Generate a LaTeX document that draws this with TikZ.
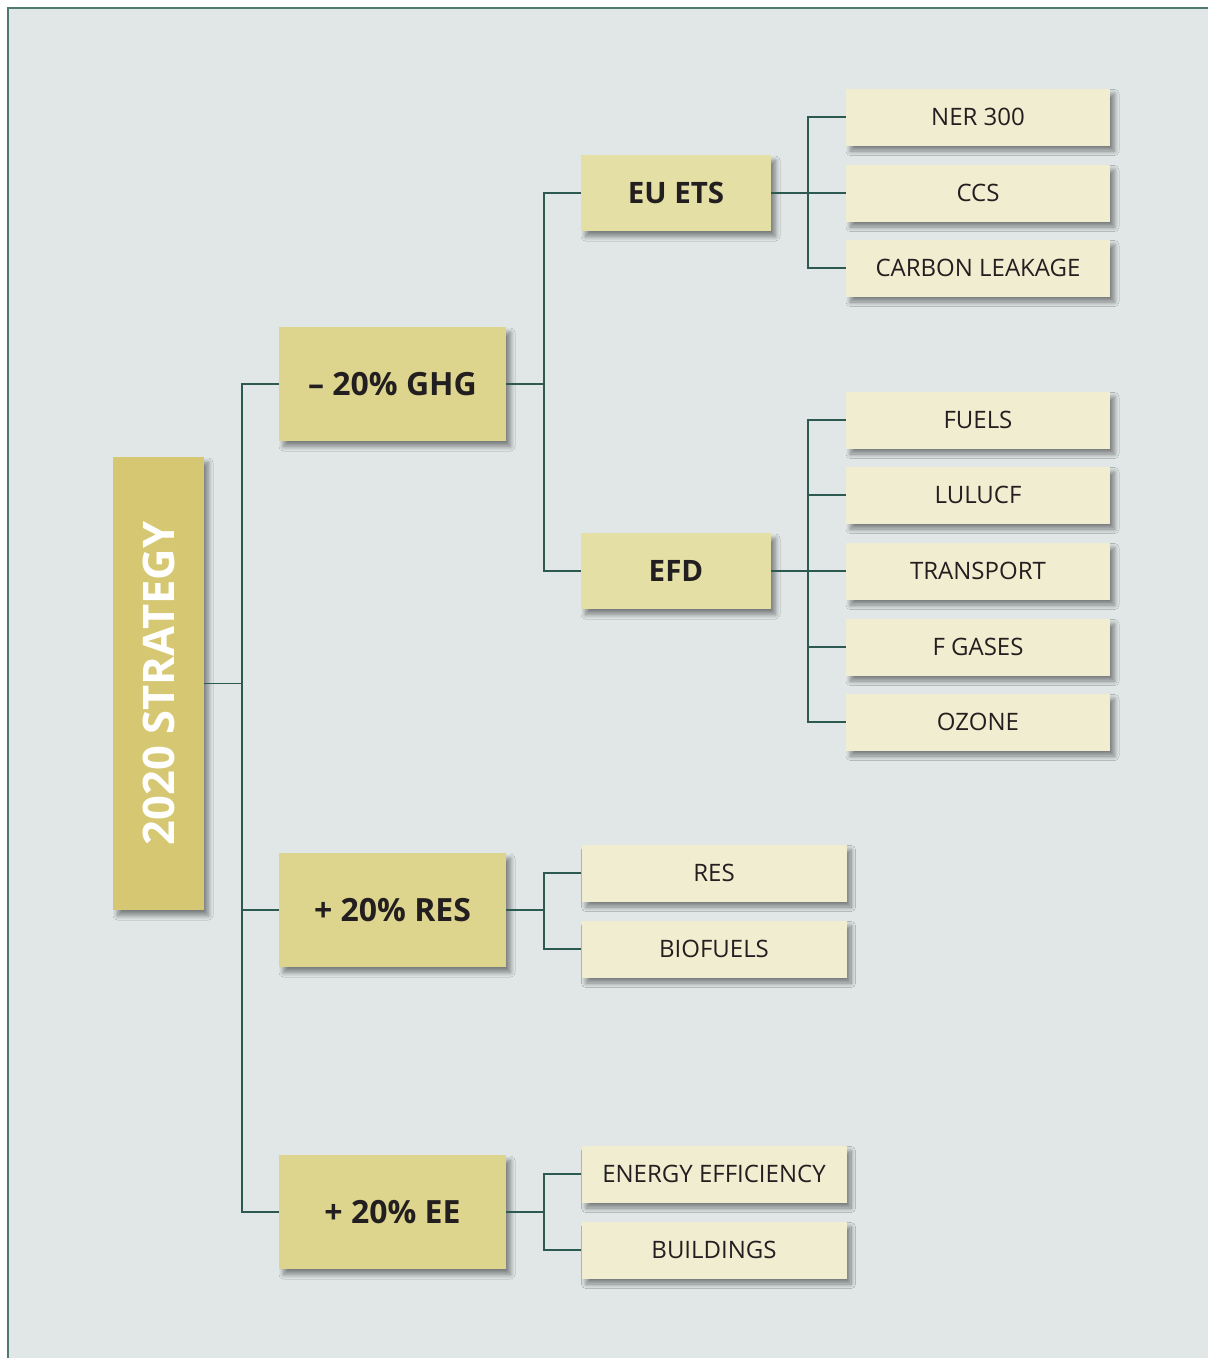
\documentclass[tikz,border=0pt]{standalone}
\usepackage{fontspec}
\setmainfont{Open Sans}
\usetikzlibrary{shadows.blur}
\definecolor{bgc}{HTML}{E1E7E7}
\definecolor{framec}{HTML}{4F7A70}
\definecolor{connc}{HTML}{2C5A50}
\definecolor{c1}{HTML}{D6C873}
\definecolor{c2}{HTML}{DDD58D}
\definecolor{c3}{HTML}{E4DFA4}
\definecolor{c4}{HTML}{F0EDD0}
\definecolor{shc}{HTML}{6F8388}
\definecolor{txt}{HTML}{231F20}
\begin{document}
\begin{tikzpicture}[x=1pt,y=-1pt,
  boxbase/.style={inner sep=0pt, draw=none, text=txt,
    blur shadow={shadow xshift=4.5pt, shadow yshift=-5.5pt, shadow blur radius=4.5pt,
      shadow blur steps=16, shadow opacity=45, fill=shc}},
  rootbox/.style={boxbase, fill=c1, minimum width=91pt, minimum height=453pt},
  lvltwo/.style={boxbase, fill=c2, minimum width=227pt, minimum height=114pt,
    font=\fontsize{32}{37}\selectfont\bfseries},
  lvlthree/.style={boxbase, fill=c3, minimum width=190pt, minimum height=76pt,
    font=\fontsize{29.5}{34}\selectfont\bfseries},
  leafbox/.style={boxbase, fill=c4, minimum width=264pt, minimum height=57pt,
    font=\fontsize{24}{28}\selectfont},
  leafboxb/.style={leafbox, minimum width=265pt},
  conn/.style={draw=connc, line width=1.9pt}]
\useasboundingbox (0,0) rectangle (1208,1358);
\fill[white] (0,0) rectangle (1208,1358);
\fill[bgc] (8,8) rectangle (1208,1358);
\draw[framec, line width=1.5pt] (8,1358) -- (8,8) -- (1208,8);

% coordinates for vertical bus lines
\coordinate (ta) at (242,0);
\coordinate (tb) at (544,0);
\coordinate (tc) at (808,0);

% root
\node[rootbox] (strat) at (158.5,683.5) {};
\node[rotate=90, text=white, font=\fontsize{43.5}{50}\selectfont\bfseries] (stratlabel) at (strat.center) {2020 STRATEGY};

% level 2
\node[lvltwo] (ghg) at (392.5,384) {– 20\% GHG};
\node[lvltwo] (res) at (392.5,910) {+ 20\% RES};
\node[lvltwo] (ee) at (392.5,1212) {+ 20\% EE};

% level 3
\node[lvlthree] (ets) at (676,193) {EU ETS};
\node[lvlthree] (efd) at (676,571) {EFD};

% leaves of EU ETS
\node[leafbox] (ner) at (978,117) {NER 300};
\node[leafbox] (ccs) at (978,193) {CCS};
\node[leafbox] (leak) at (978,268) {CARBON LEAKAGE};

% leaves of EFD
\node[leafbox] (fuels) at (978,420) {FUELS};
\node[leafbox] (lulucf) at (978,495) {LULUCF};
\node[leafbox] (transp) at (978,571) {TRANSPORT};
\node[leafbox] (fgas) at (978,647) {F GASES};
\node[leafbox] (ozone) at (978,722) {OZONE};

% leaves of RES
\node[leafboxb] (resi) at (714,873) {RES};
\node[leafboxb] (bio) at (714,949) {BIOFUELS};

% leaves of EE
\node[leafboxb] (eff) at (714,1174) {ENERGY EFFICIENCY};
\node[leafboxb] (bld) at (714,1250) {BUILDINGS};

% connectors: root to level 2
\draw[conn] (strat.east) -- (strat.east -| ta);
\draw[conn] (ghg.west) -- (ghg.west -| ta) -- (ee.west -| ta) -- (ee.west);
\draw[conn] (res.west) -- (res.west -| ta);

% GHG to level 3
\draw[conn] (ghg.east) -- (ghg.east -| tb);
\draw[conn] (ets.west) -- (ets.west -| tb) -- (efd.west -| tb) -- (efd.west);

% EU ETS to leaves
\draw[conn] (ets.east) -- (ccs.west);
\draw[conn] (ner.west) -- (ner.west -| tc) -- (leak.west -| tc) -- (leak.west);

% EFD to leaves
\draw[conn] (efd.east) -- (transp.west);
\draw[conn] (fuels.west) -- (fuels.west -| tc) -- (ozone.west -| tc) -- (ozone.west);
\draw[conn] (lulucf.west) -- (lulucf.west -| tc);
\draw[conn] (fgas.west) -- (fgas.west -| tc);

% RES to leaves
\draw[conn] (res.east) -- (res.east -| tb);
\draw[conn] (resi.west) -- (resi.west -| tb) -- (bio.west -| tb) -- (bio.west);

% EE to leaves
\draw[conn] (ee.east) -- (ee.east -| tb);
\draw[conn] (eff.west) -- (eff.west -| tb) -- (bld.west -| tb) -- (bld.west);
\end{tikzpicture}
\end{document}
